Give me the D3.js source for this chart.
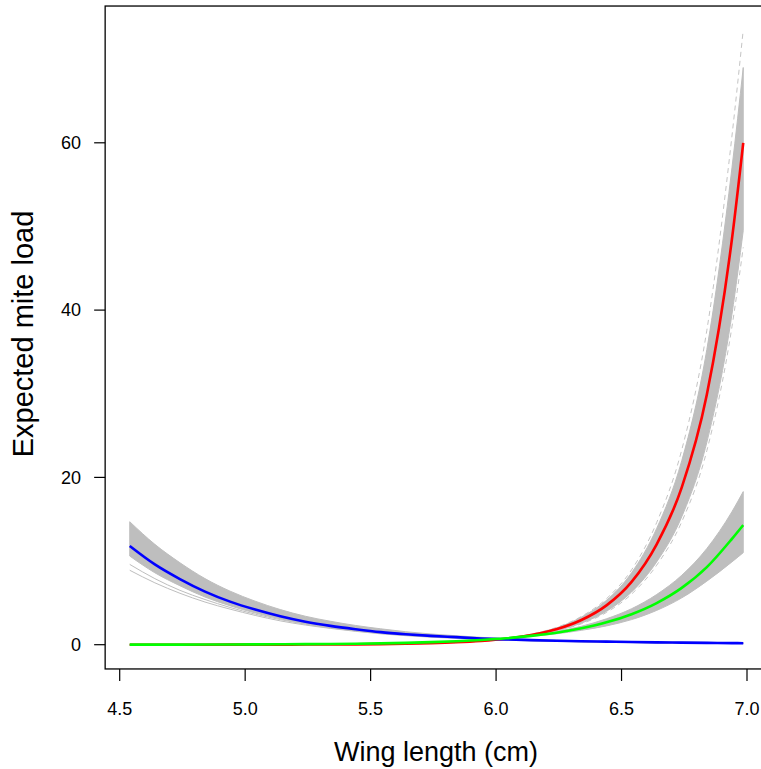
<!DOCTYPE html>
<html>
<head>
<meta charset="utf-8">
<script src="https://cdn.jsdelivr.net/npm/d3@7"></script>
<style>
html,body{margin:0;padding:0;background:#fff;}
svg{display:block;font-family:"Liberation Sans",Arial,sans-serif;}
</style>
</head>
<body>
<svg id="chart" width="761" height="769"></svg>
<script>
// Wing length grid (cm)
const wing = [4.54,4.64,4.74,4.84,4.94,5.04,5.14,5.24,5.34,5.44,5.54,5.64,5.74,5.84,5.94,6.04,6.14,6.24,6.34,6.44,6.54,6.64,6.74,6.84,6.94,6.985];

// Fitted mean curves
const redMean   = [0.0006,0.001,0.0017,0.0026,0.0042,0.0067,0.011,0.017,0.027,0.044,0.070,0.111,0.178,0.284,0.453,0.72,1.16,1.84,2.95,4.70,7.51,12.0,18.8,29.9,48.5,60.0];
const greenMean = [0.0072,0.0099,0.0135,0.0184,0.0251,0.0343,0.0469,0.064,0.087,0.119,0.163,0.222,0.303,0.413,0.564,0.77,1.05,1.43,1.96,2.67,3.65,4.98,6.79,9.27,12.65,14.3];
const blueMean  = [11.8,9.6,7.85,6.35,5.15,4.2,3.4,2.75,2.25,1.85,1.5,1.25,1.05,0.9,0.75,0.64,0.55,0.48,0.42,0.37,0.32,0.28,0.25,0.22,0.19,0.18];

// Posterior sample envelopes (grey bands)
const redUpper   = [0.001,0.0015,0.0024,0.0036,0.0056,0.0087,0.014,0.021,0.033,0.052,0.081,0.126,0.198,0.31,0.48,0.75,1.24,2.0,3.3,5.3,8.6,13.9,22.0,35.3,57.0,69.0];
const redLower   = [0.0003,0.0006,0.0011,0.0017,0.0029,0.0048,0.0081,0.013,0.021,0.035,0.058,0.095,0.157,0.258,0.42,0.69,1.07,1.66,2.58,4.0,6.3,9.9,15.3,24.2,39.5,49.5];
const redDashUp  = [0.0012,0.0018,0.0028,0.0041,0.0063,0.0096,0.015,0.023,0.036,0.056,0.086,0.133,0.208,0.325,0.50,0.76,1.27,2.06,3.38,5.5,8.95,14.6,23.3,37.6,60.8,73.5];
const redDashLo  = [0.0002,0.0005,0.0009,0.0015,0.0026,0.0044,0.0076,0.012,0.020,0.034,0.056,0.092,0.152,0.25,0.41,0.68,1.05,1.62,2.50,3.86,6.05,9.5,14.7,23.2,38.0,47.5];

const greenUpper = [0.012,0.016,0.021,0.027,0.035,0.046,0.06,0.079,0.104,0.138,0.183,0.243,0.322,0.43,0.58,0.80,1.12,1.57,2.2,3.1,4.3,6.0,8.3,11.5,15.9,18.3];
const greenLower = [0.004,0.006,0.0085,0.012,0.017,0.024,0.034,0.048,0.068,0.096,0.135,0.19,0.27,0.38,0.53,0.74,0.98,1.30,1.72,2.25,3.0,4.1,5.6,7.6,9.9,11.0];

const blueUpper  = [14.7,12.0,9.8,7.9,6.4,5.2,4.2,3.4,2.8,2.3,1.9,1.55,1.28,1.07,0.88,0.72,0.62,0.55,0.48,0.43,0.38,0.34,0.31,0.28,0.25,0.24];
const blueLower  = [10.6,8.6,7.05,5.7,4.65,3.8,3.1,2.5,2.05,1.68,1.37,1.14,0.96,0.82,0.68,0.58,0.49,0.42,0.36,0.31,0.27,0.23,0.20,0.17,0.15,0.14];
const blueLow1   = [8.9,7.4,6.15,5.1,4.25,3.5,2.85,2.35,1.95,1.6,1.3,1.08,0.9,0.76,0.64,0.54,0.46,0.40,0.34,0.29,0.25,0.21,0.18,0.16,0.14,0.13];
const blueLow2   = [9.6,7.9,6.5,5.4,4.45,3.65,3.0,2.45,2.0,1.65,1.35,1.12,0.94,0.8,0.67,0.57,0.48,0.41,0.35,0.30,0.26,0.22,0.19,0.17,0.15,0.14];

const xTicks = [4.5,5.0,5.5,6.0,6.5,7.0];
const yTicks = [0,20,40,60];
const xLim = [4.442,7.083];
const yLim = [-2.9,76.35];

const svg = d3.select("#chart");
const x = d3.scaleLinear().domain([4.5,7.0]).range([119.7,747]);
const y = d3.scaleLinear().domain([0,60]).range([644.7,142.8]);

const pts = arr => wing.map((w,i)=>[w,arr[i]]);
const line = d3.line().x(d=>x(d[0])).y(d=>y(d[1])).curve(d3.curveMonotoneX);
const area = d3.area().x((d,i)=>x(wing[i])).y0(d=>y(d[0])).y1(d=>y(d[1])).curve(d3.curveMonotoneX);
const band = (lo,hi)=>wing.map((w,i)=>[lo[i],hi[i]]);

const plot = svg.append("g");
const grey = "#bebebe";

[[redLower,redUpper],[greenLower,greenUpper],[blueLower,blueUpper]].forEach(([lo,hi])=>{
  plot.append("path").attr("d",area(band(lo,hi))).attr("fill",grey).attr("stroke",grey).attr("stroke-width",1);
});
[blueLow1,blueLow2].forEach(a=>{
  plot.append("path").attr("d",line(pts(a))).attr("fill","none").attr("stroke",grey).attr("stroke-width",1);
});
[redDashUp,redDashLo].forEach(a=>{
  plot.append("path").attr("d",line(pts(a))).attr("fill","none").attr("stroke","#c4c4c4").attr("stroke-width",1).attr("stroke-dasharray","5,4");
});

[[redMean,"#ff0000"],[blueMean,"#0000ff"],[greenMean,"#00ff00"]].forEach(([a,c])=>{
  plot.append("path").attr("d",line(pts(a))).attr("fill","none").attr("stroke",c).attr("stroke-width",2.6).attr("stroke-linejoin","round");
});

// box
svg.append("rect")
  .attr("x",x(xLim[0])).attr("y",y(yLim[1]))
  .attr("width",x(xLim[1])-x(xLim[0])).attr("height",y(yLim[0])-y(yLim[1]))
  .attr("fill","none").attr("stroke","#000").attr("stroke-width",1.3);

// x axis
const xb = y(yLim[0]);
const xa = svg.append("g");
xTicks.forEach(t=>{
  xa.append("line").attr("x1",x(t)).attr("x2",x(t)).attr("y1",xb).attr("y2",xb+12).attr("stroke","#000").attr("stroke-width",1.2);
  xa.append("text").attr("x",x(t)).attr("y",715).attr("text-anchor","middle").attr("font-size",18).attr("fill","#000").text(t.toFixed(1));
});
// y axis
const yb = x(xLim[0]);
yTicks.forEach(t=>{
  xa.append("line").attr("x1",yb-11).attr("x2",yb).attr("y1",y(t)).attr("y2",y(t)).attr("stroke","#000").attr("stroke-width",1.2);
  xa.append("text").attr("x",81).attr("y",y(t)).attr("dy","0.35em").attr("text-anchor","end").attr("font-size",18).attr("fill","#000").text(t);
});

svg.append("text").attr("x",436).attr("y",761).attr("text-anchor","middle").attr("font-size",27).attr("fill","#000").text("Wing length (cm)");
svg.append("text").attr("transform","translate(33,334) rotate(-90)").attr("text-anchor","middle").attr("font-size",29).attr("fill","#000").text("Expected mite load");
</script>
</body>
</html>
